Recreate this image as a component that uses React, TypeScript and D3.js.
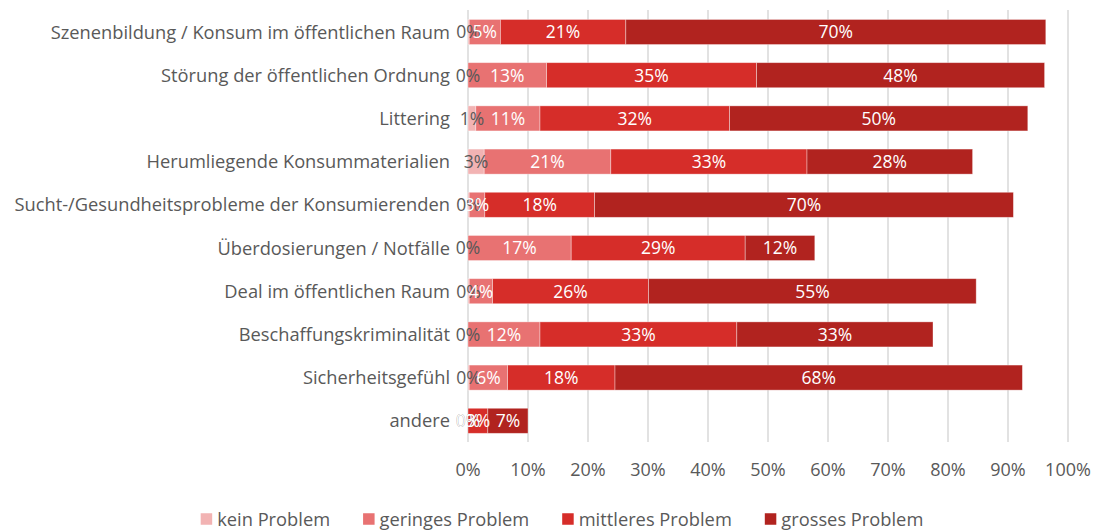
import React, { useEffect, useRef } from "react";
import * as d3 from "d3";

const categories = [
  "Szenenbildung / Konsum im öffentlichen Raum",
  "Störung der öffentlichen Ordnung",
  "Littering",
  "Herumliegende Konsummaterialien",
  "Sucht-/Gesundheitsprobleme der Konsumierenden",
  "Überdosierungen / Notfälle",
  "Deal im öffentlichen Raum",
  "Beschaffungskriminalität",
  "Sicherheitsgefühl",
  "andere",
];

const seriesNames = ["kein Problem", "geringes Problem", "mittleres Problem", "grosses Problem"];
const kein = [0.2, 0, 1.3, 2.7, 0.2, 0, 0.2, 0, 0.2, 0];
const gering = [5.2, 13.1, 10.7, 21.1, 2.6, 17.2, 3.9, 12.0, 6.4, 0];
const mittel = [20.9, 35.0, 31.6, 32.7, 18.3, 29.0, 26.0, 32.8, 17.9, 3.3];
const gross = [70.0, 48.0, 49.7, 27.6, 69.8, 11.6, 54.6, 32.7, 67.9, 6.7];
const xTicks = [0, 10, 20, 30, 40, 50, 60, 70, 80, 90, 100];

const colors = ["#F2B3B3", "#E87272", "#D62D29", "#B1231F"];
const labelColors = ["#595959", "#FFFFFF", "#FFFFFF", "#FFFFFF"];
const FONT = "'Open Sans', sans-serif";
const FS = 18.3;
const FS_LABEL = 17.5;
const FS_TICK = 18;
const W = 1097;
const H = 530;

export default function App() {
  const ref = useRef<SVGSVGElement | null>(null);

  useEffect(() => {
    const svg = d3.select(ref.current);
    svg.selectAll("*").remove();

    const x = d3.scaleLinear().domain([0, 100]).range([468, 1068]);
    const y = d3.scaleBand<string>().domain(categories).range([10.4, 442.4]).paddingInner(0.42).paddingOuter(0.21);

    const table = categories.map((c, i) => ({
      cat: c,
      "kein Problem": kein[i],
      "geringes Problem": gering[i],
      "mittleres Problem": mittel[i],
      "grosses Problem": gross[i],
    }));
    const stacked = d3.stack<any>().keys(seriesNames)(table);

    // gridlines
    svg.append("g")
      .selectAll("line")
      .data(xTicks)
      .join("line")
      .attr("x1", (d) => x(d))
      .attr("x2", (d) => x(d))
      .attr("y1", 10)
      .attr("y2", 442)
      .attr("stroke", "#D9D9D9")
      .attr("stroke-width", 1.5);

    // bars
    const gBars = svg.append("g");
    stacked.forEach((s, si) => {
      gBars.append("g")
        .selectAll("rect")
        .data(s)
        .join("rect")
        .attr("x", (d) => x(d[0]))
        .attr("width", (d) => Math.max(0, x(d[1]) - x(d[0])))
        .attr("y", (d) => y((d.data as any).cat)!)
        .attr("height", y.bandwidth())
        .attr("fill", colors[si])
        .attr("stroke", "#FFFFFF")
        .attr("stroke-opacity", 0.45)
        .attr("stroke-width", 0.8);
    });

    // labels
    const gLab = svg.append("g").attr("font-family", FONT).attr("font-size", FS_LABEL);
    stacked.forEach((s, si) => {
      gLab.append("g")
        .selectAll("text")
        .data(s)
        .join("text")
        .attr("x", (d) => x((d[0] + d[1]) / 2))
        .attr("y", (d) => y((d.data as any).cat)! + y.bandwidth() / 2)
        .attr("dy", "0.36em")
        .attr("text-anchor", "middle")
        .attr("fill", labelColors[si])
        .text((d) => Math.round(d[1] - d[0]) + "%");
    });

    // category axis labels
    svg.append("g")
      .attr("font-family", FONT)
      .attr("font-size", FS)
      .attr("fill", "#595959")
      .selectAll("text")
      .data(categories)
      .join("text")
      .attr("x", 450)
      .attr("y", (d) => y(d)! + y.bandwidth() / 2)
      .attr("dy", "0.36em")
      .attr("text-anchor", "end")
      .text((d) => d);

    // x tick labels
    svg.append("g")
      .attr("font-family", FONT)
      .attr("font-size", FS_TICK)
      .attr("fill", "#595959")
      .selectAll("text")
      .data(xTicks)
      .join("text")
      .attr("x", (d) => x(d))
      .attr("y", 470)
      .attr("dy", "0.36em")
      .attr("text-anchor", "middle")
      .text((d) => d + "%");

    // legend
    const lg = svg.append("g").attr("font-family", FONT).attr("font-size", FS).attr("fill", "#595959");
    const items = seriesNames.map((n, i) => {
      const g = lg.append("g");
      g.append("rect").attr("x", 0).attr("y", -5.75).attr("width", 11.5).attr("height", 11.5).attr("fill", colors[i]);
      const t = g.append("text").attr("x", 16.5).attr("y", 0).attr("dy", "0.36em").text(n);
      const w = 16.5 + (t.node() as SVGTextElement).getComputedTextLength();
      return { g, w };
    });
    const gap = 33;
    const total = d3.sum(items, (d) => d.w) + gap * (items.length - 1);
    let cx = 562 - total / 2;
    items.forEach((it) => {
      it.g.attr("transform", `translate(${cx},519)`);
      cx += it.w + gap;
    });
  }, []);

  return (
    <svg
      ref={ref}
      width={W}
      height={H}
      style={{ position: "absolute", left: 0, top: 0, background: "#fff" }}
    />
  );
}
